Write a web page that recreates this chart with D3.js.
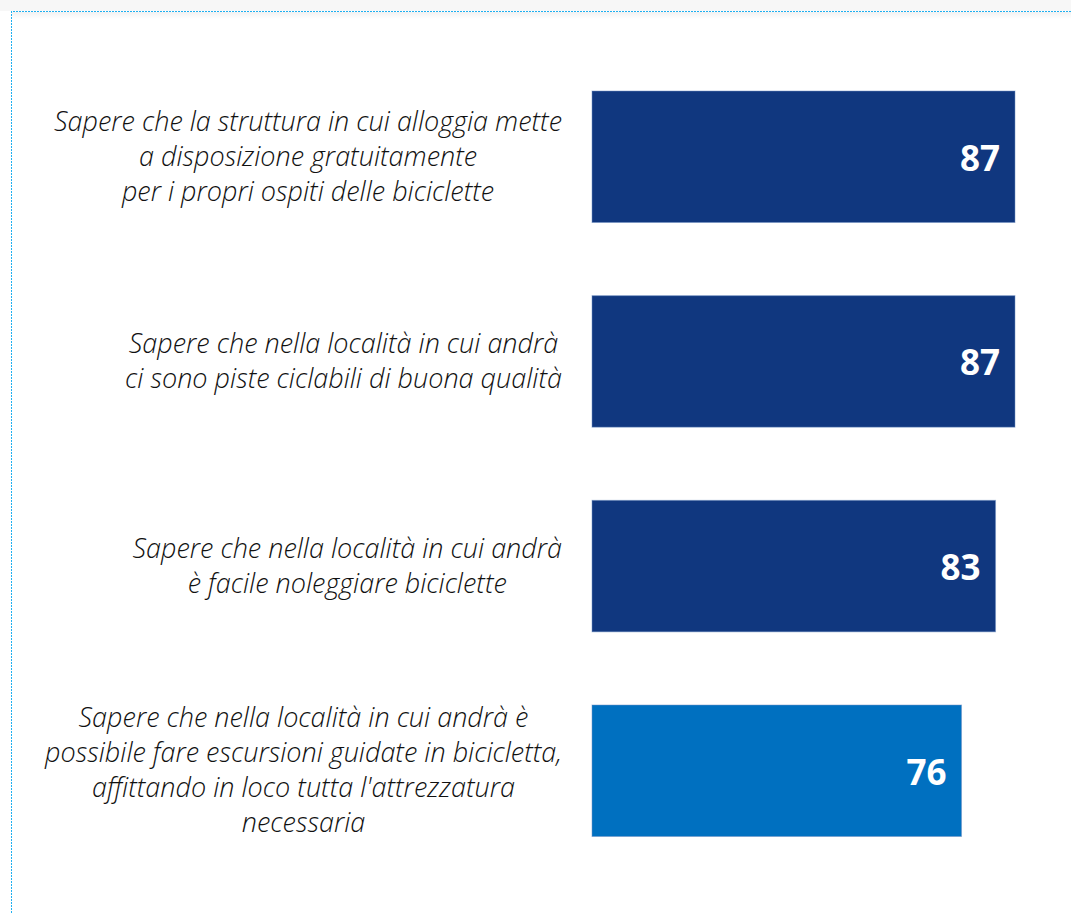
<!DOCTYPE html>
<html>
<head>
<meta charset="utf-8">
<script src="https://cdn.jsdelivr.net/npm/d3@7"></script>
<style>
  html, body { margin: 0; padding: 0; background: #fff; }
  svg { display: block; }
</style>
</head>
<body>
<div id="chart"></div>
<script>
// categories (one array of lines per bar)
var categories = [
  ["Sapere che la struttura in cui alloggia mette", "a disposizione gratuitamente", "per i propri ospiti delle biciclette"],
  ["Sapere che nella località in cui andrà", "ci sono piste ciclabili di buona qualità"],
  ["Sapere che nella località in cui andrà", "è facile noleggiare biciclette"],
  ["Sapere che nella località in cui andrà è", "possibile fare escursioni guidate in bicicletta,", "affittando in loco tutta l'attrezzatura", "necessaria"]
];
var values = [87, 87, 83, 76];
var barColors = ["#10377f", "#10377f", "#10377f", "#0070c0"];

var svgWidth = 1071, svgHeight = 913;

var svg = d3.select("#chart").append("svg")
  .attr("width", svgWidth)
  .attr("height", svgHeight);

// frame: grey strip on top + dotted blue border
var defs = svg.append("defs");
var grad = defs.append("linearGradient").attr("id", "shade")
  .attr("x1", 0).attr("y1", 0).attr("x2", 0).attr("y2", 1);
grad.append("stop").attr("offset", "0%").attr("stop-color", "#f2f2f2");
grad.append("stop").attr("offset", "100%").attr("stop-color", "#ffffff");

svg.append("rect").attr("x", 0).attr("y", 0).attr("width", svgWidth).attr("height", 11).attr("fill", "#f7f7f7");
svg.append("rect").attr("x", 12).attr("y", 12).attr("width", svgWidth).attr("height", 7).attr("fill", "url(#shade)");

svg.append("path")
  .attr("d", "M11.5," + svgHeight + "V11.5H" + svgWidth)
  .attr("fill", "none")
  .attr("stroke", "#1fb0f0")
  .attr("stroke-width", 1)
  .attr("stroke-dasharray", "2,1")
  .attr("shape-rendering", "crispEdges");

var x = d3.scaleLinear().domain([0, 100]).range([592, 592 + 486.2]);
var y = d3.scaleBand()
  .domain(d3.range(values.length))
  .range([91, 836.5])
  .paddingInner(0.3575)
  .paddingOuter(0);

var rows = svg.selectAll(".row").data(values).enter()
  .append("g").attr("class", "row");

rows.append("rect")
  .attr("x", x(0))
  .attr("y", (d, i) => y(i))
  .attr("width", d => x(d) - x(0))
  .attr("height", y.bandwidth())
  .attr("fill", (d, i) => barColors[i])
  .attr("stroke", "#6f8fc4")
  .attr("stroke-opacity", 0.5)
  .attr("stroke-width", 1);

rows.append("text")
  .attr("x", d => x(d) - 15)
  .attr("y", (d, i) => y(i) + y.bandwidth() / 2)
  .attr("dy", "0.4em")
  .attr("text-anchor", "end")
  .attr("fill", "#fff")
  .attr("font-family", "'Open Sans', sans-serif")
  .attr("font-weight", 700)
  .attr("font-size", 35)
  .text(d => d);

// category labels: lines centred inside a block whose right edge is at 562
var lineH = 35;
var labelRight = 562;
var labels = svg.selectAll(".label").data(categories).enter()
  .append("text")
  .attr("class", "label")
  .attr("font-family", "'Open Sans', sans-serif")
  .attr("font-style", "italic")
  .attr("font-weight", 300)
  .attr("font-size", 27)
  .attr("fill", "#111")
  .attr("text-anchor", "middle");

labels.each(function(lines, i) {
  var t = d3.select(this);
  var cy = y(i) + y.bandwidth() / 2;
  var top = cy - (lines.length - 1) * lineH / 2;
  lines.forEach(function(l, j) {
    t.append("tspan").attr("y", top + j * lineH).attr("dy", "0.34em").text(l);
  });
  var maxW = d3.max(t.selectAll("tspan").nodes(), n => n.getComputedTextLength());
  t.selectAll("tspan").attr("x", labelRight - maxW / 2);
});
</script>
</body>
</html>
